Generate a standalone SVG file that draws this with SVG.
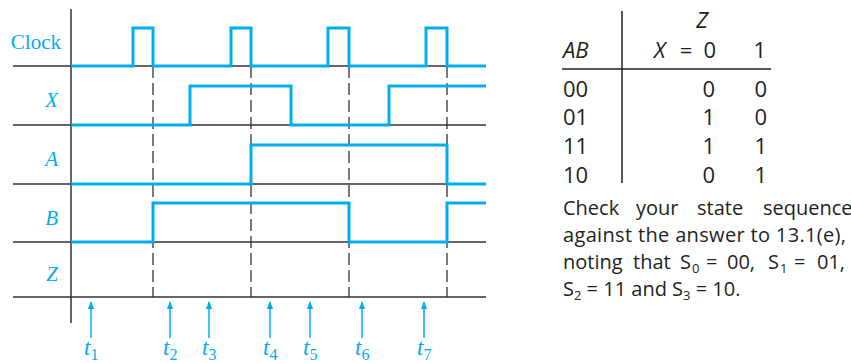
<svg xmlns="http://www.w3.org/2000/svg" width="851" height="363" viewBox="0 0 851 363">
<style>
.sig{fill:none;stroke:#00AEEF;stroke-width:3;stroke-linejoin:miter}
.grid{stroke:#333;stroke-width:1.5;fill:none}
.dash{stroke:#333;stroke-width:1.3;stroke-dasharray:12 5;fill:none}
.lab{font-family:"Liberation Serif",serif;font-size:21px;fill:#00AEEF;text-anchor:end}
.it{font-style:italic}
.arr{stroke:#00AEEF;stroke-width:1.5}
.tl{font-family:"Liberation Serif",serif;font-size:23px;font-style:italic;fill:#00AEEF}
.sub{font-size:16px;font-style:normal}
.tbl{font-family:"Open Sans",sans-serif;font-size:22px;fill:#231F20}
.par{font-family:"Open Sans",sans-serif;font-size:20px;fill:#231F20}
.ps{font-size:13px}
</style>
<defs>
<marker id="ah" markerWidth="8" markerHeight="10" refX="9" refY="4" orient="auto" markerUnits="userSpaceOnUse" viewBox="0 0 10 8">
<path d="M0,0 L10,4 L0,8 Z" fill="#00AEEF"/>
</marker>
</defs>
<g id="grid">
<line class="grid" x1="71" y1="9" x2="71" y2="323"/>
<line class="grid" x1="13" y1="66" x2="486" y2="66"/>
<line class="grid" x1="13" y1="125" x2="486" y2="125"/>
<line class="grid" x1="13" y1="184" x2="486" y2="184"/>
<line class="grid" x1="13" y1="242" x2="486" y2="242"/>
<line class="grid" x1="13" y1="297" x2="486" y2="297"/>
<line class="dash" x1="153" y1="66" x2="153" y2="297"/>
<line class="dash" x1="251" y1="66" x2="251" y2="297"/>
<line class="dash" x1="349" y1="66" x2="349" y2="297"/>
<line class="dash" x1="447" y1="66" x2="447" y2="297"/>
</g>
<g id="labels">
<text class="lab" x="61" y="49">Clock</text>
<text class="lab it" x="58" y="107">X</text>
<text class="lab it" x="58" y="166">A</text>
<text class="lab it" x="58" y="225">B</text>
<text class="lab it" x="58" y="281">Z</text>
</g>
<g id="signals">
<path class="sig" d="M71,66 H133 V28 H153 V66 H231 V28 H251 V66 H328 V28 H349 V66 H426 V28 H447 V66 H486"/>
<path class="sig" d="M71,125 H190 V86 H291 V125 H389 V86 H486"/>
<path class="sig" d="M71,184 H251 V145 H447 V184 H486"/>
<path class="sig" d="M71,242 H153 V203 H349 V242 H447 V203 H486"/>
</g>
<g id="connectors">
<line class="arr" x1="91" y1="338" x2="91" y2="302" marker-end="url(#ah)"/>
<line class="arr" x1="170" y1="338" x2="170" y2="302" marker-end="url(#ah)"/>
<line class="arr" x1="209" y1="338" x2="209" y2="302" marker-end="url(#ah)"/>
<line class="arr" x1="270" y1="338" x2="270" y2="302" marker-end="url(#ah)"/>
<line class="arr" x1="310" y1="338" x2="310" y2="302" marker-end="url(#ah)"/>
<line class="arr" x1="362" y1="338" x2="362" y2="302" marker-end="url(#ah)"/>
<line class="arr" x1="424" y1="338" x2="424" y2="302" marker-end="url(#ah)"/>
</g>
<g id="times">
<text class="tl" x="84" y="355">t<tspan class="sub" dy="5">1</tspan></text>
<text class="tl" x="163" y="355">t<tspan class="sub" dy="5">2</tspan></text>
<text class="tl" x="202" y="355">t<tspan class="sub" dy="5">3</tspan></text>
<text class="tl" x="263" y="355">t<tspan class="sub" dy="5">4</tspan></text>
<text class="tl" x="303" y="355">t<tspan class="sub" dy="5">5</tspan></text>
<text class="tl" x="355" y="355">t<tspan class="sub" dy="5">6</tspan></text>
<text class="tl" x="417" y="355">t<tspan class="sub" dy="5">7</tspan></text>
</g>
<g id="table">
<line stroke="#231F20" stroke-width="1.5" x1="622" y1="11" x2="622" y2="183"/>
<line stroke="#231F20" stroke-width="1.5" x1="562" y1="69" x2="771" y2="69"/>
<text class="tbl" x="702" y="28" font-style="italic" text-anchor="middle">Z</text>
<text class="tbl" x="563" y="58" font-style="italic">AB</text>
<text class="tbl" x="654" y="58" font-style="italic">X</text>
<text class="tbl" x="686" y="58" text-anchor="middle">=</text>
<text class="tbl" x="716" y="58" text-anchor="end">0</text>
<text class="tbl" x="766" y="58" text-anchor="end">1</text>
<text class="tbl" x="563" y="97">00</text>
<text class="tbl" x="563" y="125">01</text>
<text class="tbl" x="563" y="154">11</text>
<text class="tbl" x="563" y="183">10</text>
<text class="tbl" x="715" y="97" text-anchor="end">0</text>
<text class="tbl" x="715" y="125" text-anchor="end">1</text>
<text class="tbl" x="715" y="154" text-anchor="end">1</text>
<text class="tbl" x="715" y="183" text-anchor="end">0</text>
<text class="tbl" x="767" y="97" text-anchor="end">0</text>
<text class="tbl" x="767" y="125" text-anchor="end">0</text>
<text class="tbl" x="767" y="154" text-anchor="end">1</text>
<text class="tbl" x="767" y="183" text-anchor="end">1</text>
</g>
<g id="note">
<text class="par" y="215"><tspan x="563">Check</tspan><tspan x="636">your</tspan><tspan x="697">state</tspan><tspan x="763">sequence</tspan></text>
<text class="par" x="563" y="242" textLength="283" lengthAdjust="spacing">against the answer to 13.1(e),</text>
<text class="par" y="269"><tspan x="563">noting</tspan><tspan x="633">that</tspan><tspan x="680">S</tspan><tspan class="ps" x="692" y="273">0</tspan><tspan x="706" y="269">=</tspan><tspan x="727">00,</tspan><tspan x="768">S</tspan><tspan class="ps" x="780" y="273">1</tspan><tspan x="794" y="269">=</tspan><tspan x="817">01,</tspan></text>
<text class="par" y="296"><tspan x="563">S</tspan><tspan class="ps" dy="4">2</tspan><tspan dy="-4"> = 11 and S</tspan><tspan class="ps" dy="4">3</tspan><tspan dy="-4"> = 10.</tspan></text>
</g>
</svg>
